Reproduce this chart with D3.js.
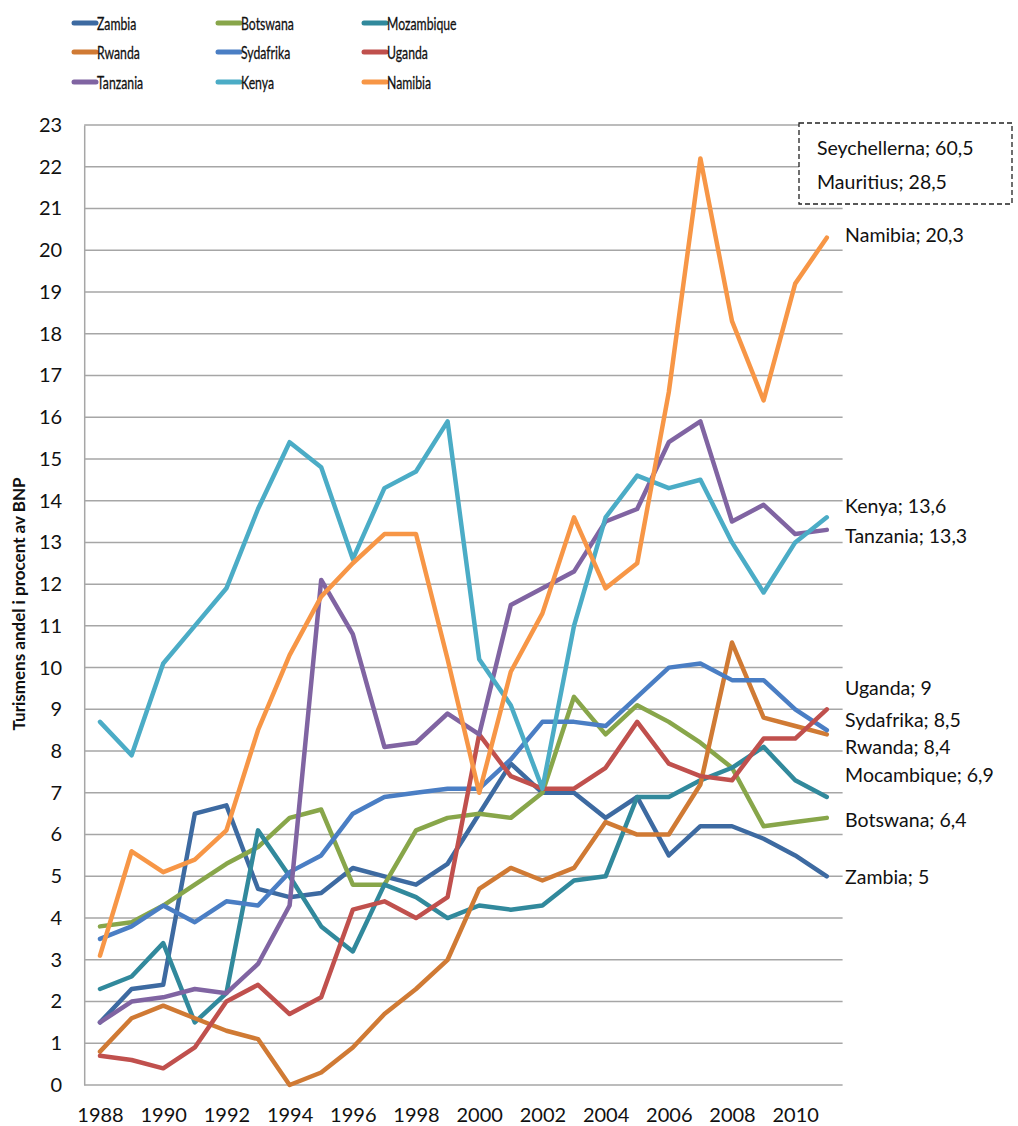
<!DOCTYPE html>
<html><head><meta charset="utf-8">
<script src="https://cdn.jsdelivr.net/npm/d3@7"></script>
<style>
body{margin:0;background:#fff;}
svg{display:block;font-family:Lato,"Open Sans",sans-serif;}
</style></head>
<body><svg id="c" width="1018" height="1126"></svg>
<script>
const years = d3.range(1988, 2012);
const tickYears = [1988,1990,1992,1994,1996,1998,2000,2002,2004,2006,2008,2010];
const yTicks = d3.range(0, 24);

const seriesNames = ["Zambia","Botswana","Mozambique","Rwanda","Sydafrika","Uganda","Tanzania","Kenya","Namibia"];
const seriesColors = ["#3D6AA1","#88A64A","#31899C","#D07A34","#4A7EC4","#C0504D","#8064A2","#4BACC6","#F79646"];

const zambia     = [1.5,2.3,2.4,6.5,6.7,4.7,4.5,4.6,5.2,5.0,4.8,5.3,6.5,7.7,7.0,7.0,6.4,6.9,5.5,6.2,6.2,5.9,5.5,5.0];
const botswana   = [3.8,3.9,4.3,4.8,5.3,5.7,6.4,6.6,4.8,4.8,6.1,6.4,6.5,6.4,7.0,9.3,8.4,9.1,8.7,8.2,7.6,6.2,6.3,6.4];
const mozambique = [2.3,2.6,3.4,1.5,2.2,6.1,5.0,3.8,3.2,4.8,4.5,4.0,4.3,4.2,4.3,4.9,5.0,6.9,6.9,7.3,7.6,8.1,7.3,6.9];
const rwanda     = [0.8,1.6,1.9,1.6,1.3,1.1,0.0,0.3,0.9,1.7,2.3,3.0,4.7,5.2,4.9,5.2,6.3,6.0,6.0,7.2,10.6,8.8,8.6,8.4];
const sydafrika  = [3.5,3.8,4.3,3.9,4.4,4.3,5.1,5.5,6.5,6.9,7.0,7.1,7.1,7.8,8.7,8.7,8.6,9.3,10.0,10.1,9.7,9.7,9.0,8.5];
const uganda     = [0.7,0.6,0.4,0.9,2.0,2.4,1.7,2.1,4.2,4.4,4.0,4.5,8.4,7.4,7.1,7.1,7.6,8.7,7.7,7.4,7.3,8.3,8.3,9.0];
const tanzania   = [1.5,2.0,2.1,2.3,2.2,2.9,4.3,12.1,10.8,8.1,8.2,8.9,8.4,11.5,11.9,12.3,13.5,13.8,15.4,15.9,13.5,13.9,13.2,13.3];
const kenya      = [8.7,7.9,10.1,11.0,11.9,13.8,15.4,14.8,12.6,14.3,14.7,15.9,10.2,9.1,7.1,11.0,13.6,14.6,14.3,14.5,13.0,11.8,13.0,13.6];
const namibia    = [3.1,5.6,5.1,5.4,6.1,8.5,10.3,11.7,12.5,13.2,13.2,10.2,7.0,9.9,11.3,13.6,11.9,12.5,16.6,22.2,18.3,16.4,19.2,20.3];
const seriesValues = [zambia,botswana,mozambique,rwanda,sydafrika,uganda,tanzania,kenya,namibia];

// end-of-line labels (drawn in this order), with pixel nudges
const endLabelSeries = ["Namibia","Kenya","Tanzania","Uganda","Sydafrika","Rwanda","Mozambique","Botswana","Zambia"];
const endLabelText   = ["Namibia; 20,3","Kenya; 13,6","Tanzania; 13,3","Uganda; 9","Sydafrika; 8,5","Rwanda; 8,4","Mocambique; 6,9","Botswana; 6,4","Zambia; 5"];
const endLabelNudge  = [4,-4,13,-14,-3,20,-15,9,8];

const boxLines = ["Seychellerna; 60,5","Mauritius; 28,5"];
const yTitle = "Turismens andel i procent av BNP";

const svg = d3.select("#c");
const pLeft = 84.2, pRight = 842.6, pTop = 125, pBottom = 1085;
const band = (pRight-pLeft)/years.length;
const x = d3.scalePoint().domain(years).range([pLeft+band/2, pRight-band/2]);
const y = d3.scaleLinear().domain([0,23]).range([pBottom, pTop]);

// gridlines
svg.append("g").selectAll("line").data(yTicks).join("line")
  .attr("x1", pLeft).attr("x2", pRight)
  .attr("y1", d=>y(d)).attr("y2", d=>y(d))
  .attr("stroke","#A6A6A6").attr("stroke-width",1.5);

// y axis
const ya = svg.append("g").attr("transform",`translate(${pLeft},0)`)
  .call(d3.axisLeft(y).tickValues(yTicks).tickSize(0).tickSizeOuter(0).tickPadding(22));
ya.select(".domain").attr("stroke","#A6A6A6").attr("stroke-width",1.5);
ya.selectAll("text").attr("font-size",20).attr("fill","#111").attr("font-family","Lato");

// x axis
const xa = svg.append("g").attr("transform",`translate(0,${pBottom})`)
  .call(d3.axisBottom(x).tickValues(tickYears).tickSize(0).tickSizeOuter(0).tickPadding(23));
xa.select(".domain").remove();
xa.selectAll("text").attr("font-size",20).attr("fill","#111").attr("font-family","Lato");

// y title
svg.append("text").attr("transform","translate(25,604) rotate(-90)")
  .attr("text-anchor","middle").attr("font-size",17).attr("font-weight","bold")
  .attr("fill","#111").text(yTitle);

// lines
const line = d3.line().x((d,i)=>x(years[i])).y(d=>y(d)).curve(d3.curveLinear);
svg.append("g").selectAll("path").data(seriesValues).join("path")
  .attr("d", d=>line(d)).attr("fill","none")
  .attr("stroke",(d,i)=>seriesColors[i]).attr("stroke-width",4.5)
  .attr("stroke-linejoin","round").attr("stroke-linecap","round");

// end labels
svg.append("g").selectAll("text").data(endLabelSeries).join("text")
  .attr("x", pRight+2.5)
  .attr("y", (d,i)=>{const v = seriesValues[seriesNames.indexOf(d)]; return y(v[v.length-1]) + endLabelNudge[i];})
  .attr("font-size",19.5).attr("fill","#111")
  .text((d,i)=>endLabelText[i]);

// dashed box
svg.append("rect").attr("x",799).attr("y",123).attr("width",213).attr("height",81)
  .attr("fill","#fff").attr("stroke","#222").attr("stroke-width",1.3).attr("stroke-dasharray","5,3");
svg.append("g").selectAll("text").data(boxLines).join("text")
  .attr("x",817).attr("y",(d,i)=>155+i*34).attr("font-size",19.5).attr("fill","#111").text(d=>d);

// legend (row-major, 3 columns)
const legCols = [73,217,363], legRows = [23,52,82];
const lg = svg.append("g").selectAll("g").data(seriesNames).join("g")
  .attr("transform",(d,i)=>`translate(${legCols[i%3]},${legRows[Math.floor(i/3)]})`);
lg.append("line").attr("x1",1).attr("x2",23).attr("y1",0).attr("y2",0)
  .attr("stroke",(d,i)=>seriesColors[i]).attr("stroke-width",5).attr("stroke-linecap","round");
lg.append("text").attr("transform","translate(24,7) scale(0.68,1)")
  .attr("font-size",18).attr("fill","#111").attr("stroke","#111").attr("stroke-width",0.3)
  .text(d=>d);
</script></body></html>
